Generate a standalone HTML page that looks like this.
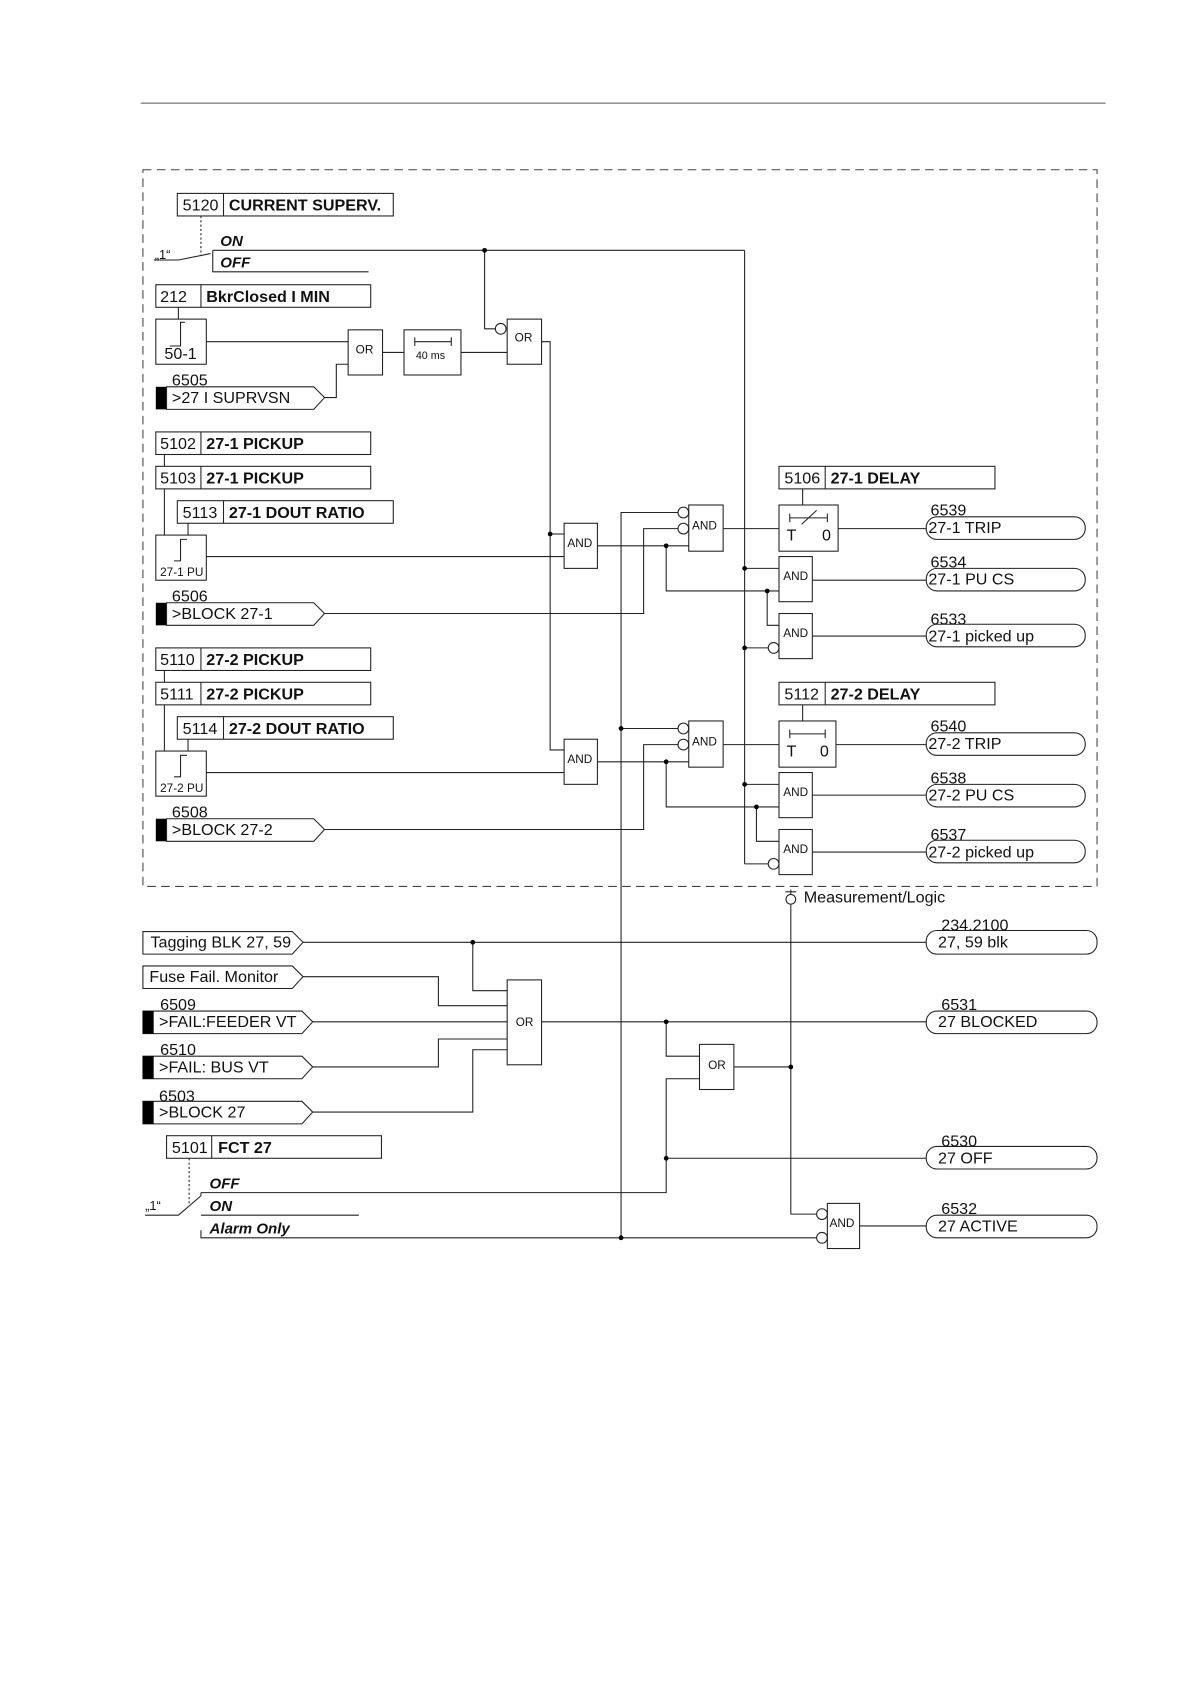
<!DOCTYPE html>
<html><head><meta charset="utf-8"><style>
html,body{margin:0;padding:0;background:#fff;}
svg{display:block;}
text{font-family:"Liberation Sans",sans-serif;fill:#111;}
.t{font-size:15px;}
.b{font-size:15px;font-weight:bold;}
.bi{font-size:14px;font-weight:bold;font-style:italic;}
.g{font-size:11px;}
</style></head><body>
<svg width="1190" height="1684" viewBox="0 0 1107.5 1567.3" xmlns="http://www.w3.org/2000/svg">
<g fill="none" stroke="#222" stroke-width="1">
<line x1="131" y1="96" x2="1029" y2="96" stroke="#555"/>
<rect x="133" y="158" width="888" height="667" stroke-dasharray="8,5" stroke="#444"/>

<rect x="165" y="180" width="201" height="21"/><line x1="208" y1="180" x2="208" y2="201"/>
<line x1="187" y1="201" x2="187" y2="238" stroke-dasharray="2,2"/>
<polyline points="143,242 166,242 196,236"/>
<line x1="198" y1="233" x2="693" y2="233"/>
<polyline points="198,233 198,253 343,253"/>
<line x1="693" y1="233" x2="693" y2="804"/>
<polyline points="451,233 451,306 461,306"/>
<circle cx="466" cy="306" r="5"/>

<rect x="145" y="265" width="200" height="21"/><line x1="187" y1="265" x2="187" y2="286"/>
<line x1="166" y1="286" x2="166" y2="297"/>
<rect x="145" y="297" width="47" height="42"/>
<polyline points="158,322 168,322 168,300 172,300"/>
<line x1="192" y1="318" x2="324" y2="318"/>
<rect x="324" y="307" width="32" height="42"/>
<polyline points="302,370 313,370 313,339 324,339"/>
<line x1="356" y1="328" x2="376" y2="328"/>
<rect x="376" y="307" width="53" height="42"/>
<line x1="386" y1="318" x2="420" y2="318"/><line x1="386" y1="314" x2="386" y2="322"/><line x1="420" y1="314" x2="420" y2="322"/>
<line x1="429" y1="328" x2="472" y2="328"/>
<rect x="472" y="297" width="32" height="42"/>
<polyline points="504,318 512,318 512,698 525,698"/>
<line x1="512" y1="497" x2="525" y2="497"/>

<rect x="145" y="402" width="200" height="21"/><line x1="187" y1="402" x2="187" y2="423"/>
<rect x="145" y="434" width="200" height="21"/><line x1="187" y1="434" x2="187" y2="455"/>
<rect x="165" y="466" width="201" height="21"/><line x1="208" y1="466" x2="208" y2="487"/>
<line x1="153" y1="423" x2="153" y2="434"/><line x1="153" y1="455" x2="153" y2="498"/><line x1="175" y1="487" x2="175" y2="498"/>
<rect x="145" y="498" width="47" height="42"/>
<polyline points="162,522 168,522 168,502 174,502"/>
<line x1="192" y1="518" x2="525" y2="518"/>
<rect x="525" y="487" width="31" height="42"/>
<line x1="556" y1="508" x2="641" y2="508"/>
<polyline points="302,571 599,571 599,492 631,492"/><circle cx="636" cy="492" r="5"/>
<polyline points="578,1152 578,477 631,477"/><circle cx="636" cy="477" r="5"/>
<rect x="641" y="470" width="32" height="43"/>
<polyline points="620,508 620,550 725,550"/>
<polyline points="714,550 714,582 725,582"/>
<line x1="673" y1="492" x2="725" y2="492"/>
<rect x="725" y="434" width="201" height="21"/><line x1="768" y1="434" x2="768" y2="455"/>
<line x1="747" y1="455" x2="747" y2="470"/>
<rect x="725" y="470" width="55" height="43"/>
<line x1="735" y1="482" x2="770" y2="482"/><line x1="735" y1="478" x2="735" y2="486"/><line x1="770" y1="478" x2="770" y2="486"/>
<line x1="746" y1="488" x2="760" y2="475"/>
<line x1="780" y1="492" x2="862" y2="492"/>
<rect x="862" y="481" width="148" height="21" rx="10"/>
<line x1="693" y1="529" x2="725" y2="529"/>
<rect x="725" y="518" width="31" height="42"/>
<line x1="756" y1="540" x2="862" y2="540"/>
<rect x="862" y="529" width="148" height="21" rx="10"/>
<line x1="693" y1="603" x2="715" y2="603"/><circle cx="720" cy="603" r="5"/>
<rect x="725" y="571" width="31" height="42"/>
<line x1="756" y1="592" x2="862" y2="592"/>
<rect x="862" y="581" width="148" height="21" rx="10"/>

<rect x="145" y="603" width="200" height="21"/><line x1="187" y1="603" x2="187" y2="624"/>
<rect x="145" y="635" width="200" height="21"/><line x1="187" y1="635" x2="187" y2="656"/>
<rect x="165" y="667" width="201" height="21"/><line x1="208" y1="667" x2="208" y2="688"/>
<line x1="153" y1="624" x2="153" y2="635"/><line x1="153" y1="656" x2="153" y2="699"/><line x1="175" y1="688" x2="175" y2="699"/>
<rect x="145" y="699" width="47" height="42"/>
<polyline points="162,723 168,723 168,703 174,703"/>
<line x1="192" y1="719" x2="525" y2="719"/>
<rect x="525" y="688" width="31" height="42"/>
<line x1="556" y1="709" x2="641" y2="709"/>
<polyline points="302,772 599,772 599,693 631,693"/><circle cx="636" cy="693" r="5"/>
<line x1="578" y1="678" x2="631" y2="678"/><circle cx="636" cy="678" r="5"/>
<rect x="641" y="671" width="32" height="43"/>
<polyline points="620,709 620,751 725,751"/>
<polyline points="704,751 704,783 725,783"/>
<line x1="673" y1="693" x2="725" y2="693"/>
<rect x="725" y="635" width="201" height="21"/><line x1="768" y1="635" x2="768" y2="656"/>
<line x1="747" y1="656" x2="747" y2="671"/>
<rect x="725" y="671" width="53" height="43"/>
<line x1="735" y1="683" x2="768" y2="683"/><line x1="735" y1="679" x2="735" y2="687"/><line x1="768" y1="679" x2="768" y2="687"/>
<line x1="778" y1="693" x2="862" y2="693"/>
<rect x="862" y="682" width="148" height="21" rx="10"/>
<line x1="693" y1="730" x2="725" y2="730"/>
<rect x="725" y="719" width="31" height="42"/>
<line x1="756" y1="740" x2="862" y2="740"/>
<rect x="862" y="730" width="148" height="21" rx="10"/>
<line x1="693" y1="804" x2="715" y2="804"/><circle cx="720" cy="804" r="5"/>
<rect x="725" y="772" width="31" height="42"/>
<line x1="756" y1="793" x2="862" y2="793"/>
<rect x="862" y="782" width="148" height="21" rx="10"/>

<circle cx="736" cy="837" r="4.5"/><line x1="736" y1="828" x2="736" y2="832"/><line x1="731" y1="830" x2="741" y2="830"/>
<polyline points="736,842 736,1130 760,1130"/><circle cx="765" cy="1130" r="5"/>
<polygon points="133,867 272,867 282,877 272,888 133,888"/>
<line x1="282" y1="877" x2="862" y2="877"/>
<rect x="862" y="866" width="159" height="22" rx="10"/>
<polyline points="440,877 440,922 472,922"/>
<polygon points="133,899 272,899 282,909 272,920 133,920"/>
<polyline points="282,909 408,909 408,936 472,936"/>
<polygon points="133,941 281,941 291,951 281,962 133,962"/>
<line x1="291" y1="951" x2="472" y2="951"/>
<polygon points="133,983 281,983 291,993 281,1004 133,1004"/>
<polyline points="291,993 408,993 408,967 472,967"/>
<polygon points="133,1025 281,1025 291,1035 281,1046 133,1046"/>
<polyline points="291,1035 440,1035 440,977 472,977"/>
<rect x="472" y="912" width="32" height="79"/>
<line x1="504" y1="951" x2="862" y2="951"/>
<rect x="862" y="941" width="159" height="21" rx="10"/>
<polyline points="620,951 620,983 651,983"/>
<rect x="651" y="972" width="32" height="42"/>
<line x1="683" y1="993" x2="736" y2="993"/>
<polyline points="187,1110 620,1110 620,1004 651,1004"/>
<line x1="620" y1="1078" x2="862" y2="1078"/>
<rect x="862" y="1067" width="159" height="21" rx="10"/>
<rect x="155" y="1057" width="200" height="21"/><line x1="197" y1="1057" x2="197" y2="1078"/>
<line x1="176" y1="1078" x2="176" y2="1120" stroke-dasharray="2,2"/>
<polyline points="135,1131 166,1131 187,1113"/>
<line x1="187" y1="1110" x2="187" y2="1113"/>
<line x1="187" y1="1131" x2="334" y2="1131"/>
<polyline points="187,1145 187,1152 760,1152"/><circle cx="765" cy="1152" r="5"/>
<rect x="770" y="1120" width="30" height="42"/>
<line x1="800" y1="1141" x2="862" y2="1141"/>
<rect x="862" y="1131" width="159" height="21" rx="10"/>
</g>
<g fill="#000">
<rect x="145" y="360" width="10" height="21"/>
<rect x="145" y="561" width="10" height="21"/>
<rect x="145" y="762" width="10" height="21"/>
<rect x="133" y="941" width="10" height="21"/>
<rect x="133" y="983" width="10" height="21"/>
<rect x="133" y="1025" width="10" height="21"/>
<circle cx="451" cy="233" r="2.2"/><circle cx="512" cy="497" r="2.2"/><circle cx="620" cy="508" r="2.2"/>
<circle cx="693" cy="529" r="2.2"/><circle cx="714" cy="550" r="2.2"/><circle cx="693" cy="603" r="2.2"/>
<circle cx="578" cy="678" r="2.2"/><circle cx="620" cy="709" r="2.2"/><circle cx="693" cy="730" r="2.2"/>
<circle cx="704" cy="751" r="2.2"/><circle cx="440" cy="877" r="2.2"/><circle cx="620" cy="951" r="2.2"/>
<circle cx="736" cy="993" r="2.2"/><circle cx="620" cy="1078" r="2.2"/><circle cx="578" cy="1152" r="2.2"/>
</g>
<g fill="none" stroke="#222">
<polygon points="155,360 292,360 302,370 292,381 155,381"/>
<polygon points="155,561 292,561 302,571 292,582 155,582"/>
<polygon points="155,762 292,762 302,772 292,783 155,783"/>
</g>
<text class="t" x="170" y="196">5120</text><text class="b" x="213" y="196">CURRENT SUPERV.</text>
<text class="t" x="144" y="241" style="font-size:12px">„1“</text>
<text class="bi" x="205" y="229">ON</text><text class="bi" x="205" y="249">OFF</text>
<text class="t" x="149" y="281">212</text><text class="b" x="192" y="281">BkrClosed I MIN</text>
<text class="t" x="153" y="334">50-1</text>
<text class="g" x="331" y="329">OR</text>
<text class="g" x="387" y="334" style="font-size:10px">40 ms</text>
<text class="g" x="479" y="318">OR</text>
<text class="t" x="160" y="359">6505</text><text class="t" x="160" y="375">&gt;27 I SUPRVSN</text>
<text class="t" x="149" y="418">5102</text><text class="b" x="192" y="418">27-1 PICKUP</text>
<text class="t" x="149" y="450">5103</text><text class="b" x="192" y="450">27-1 PICKUP</text>
<text class="t" x="170" y="482">5113</text><text class="b" x="213" y="482">27-1 DOUT RATIO</text>
<text class="g" x="149" y="536">27-1 PU</text>
<text class="g" x="528" y="509">AND</text><text class="g" x="644" y="493">AND</text>
<text class="t" x="160" y="560">6506</text><text class="t" x="160" y="576">&gt;BLOCK 27-1</text>
<text class="t" x="730" y="450">5106</text><text class="b" x="773" y="450">27-1 DELAY</text>
<text class="t" x="732" y="503">T</text><text class="t" x="765" y="503">0</text>
<text class="t" x="866" y="480">6539</text><text class="t" x="864" y="496">27-1 TRIP</text>
<text class="g" x="729" y="540">AND</text>
<text class="t" x="866" y="528">6534</text><text class="t" x="864" y="544">27-1 PU CS</text>
<text class="g" x="729" y="593">AND</text>
<text class="t" x="866" y="581">6533</text><text class="t" x="864" y="597">27-1 picked up</text>
<text class="t" x="149" y="619">5110</text><text class="b" x="192" y="619">27-2 PICKUP</text>
<text class="t" x="149" y="651">5111</text><text class="b" x="192" y="651">27-2 PICKUP</text>
<text class="t" x="170" y="683">5114</text><text class="b" x="213" y="683">27-2 DOUT RATIO</text>
<text class="g" x="149" y="737">27-2 PU</text>
<text class="g" x="528" y="710">AND</text><text class="g" x="644" y="694">AND</text>
<text class="t" x="160" y="761">6508</text><text class="t" x="160" y="777">&gt;BLOCK 27-2</text>
<text class="t" x="730" y="651">5112</text><text class="b" x="773" y="651">27-2 DELAY</text>
<text class="t" x="732" y="704">T</text><text class="t" x="763" y="704">0</text>
<text class="t" x="866" y="681">6540</text><text class="t" x="864" y="697">27-2 TRIP</text>
<text class="g" x="729" y="741">AND</text>
<text class="t" x="866" y="729">6538</text><text class="t" x="864" y="745">27-2 PU CS</text>
<text class="g" x="729" y="794">AND</text>
<text class="t" x="866" y="782">6537</text><text class="t" x="864" y="798">27-2 picked up</text>
<text class="t" x="748" y="840">Measurement/Logic</text>
<text class="t" x="140" y="882">Tagging BLK 27, 59</text>
<text class="t" x="876" y="866">234.2100</text><text class="t" x="873" y="882">27, 59 blk</text>
<text class="t" x="139" y="914">Fuse Fail. Monitor</text>
<text class="t" x="149" y="940">6509</text><text class="t" x="148" y="956">&gt;FAIL:FEEDER VT</text>
<text class="g" x="480" y="955">OR</text>
<text class="t" x="876" y="940">6531</text><text class="t" x="873" y="956">27 BLOCKED</text>
<text class="t" x="149" y="982">6510</text><text class="t" x="148" y="998">&gt;FAIL: BUS VT</text>
<text class="g" x="659" y="995">OR</text>
<text class="t" x="148" y="1025">6503</text><text class="t" x="148" y="1040">&gt;BLOCK 27</text>
<text class="t" x="160" y="1073">5101</text><text class="b" x="203" y="1073">FCT 27</text>
<text class="t" x="876" y="1067">6530</text><text class="t" x="873" y="1083">27 OFF</text>
<text class="bi" x="195" y="1106">OFF</text><text class="bi" x="195" y="1127">ON</text><text class="bi" x="195" y="1148">Alarm Only</text>
<text class="t" x="135" y="1126" style="font-size:12px">„1“</text>
<text class="g" x="772" y="1142">AND</text>
<text class="t" x="876" y="1130">6532</text><text class="t" x="873" y="1146">27 ACTIVE</text>
</svg>
</body></html>
